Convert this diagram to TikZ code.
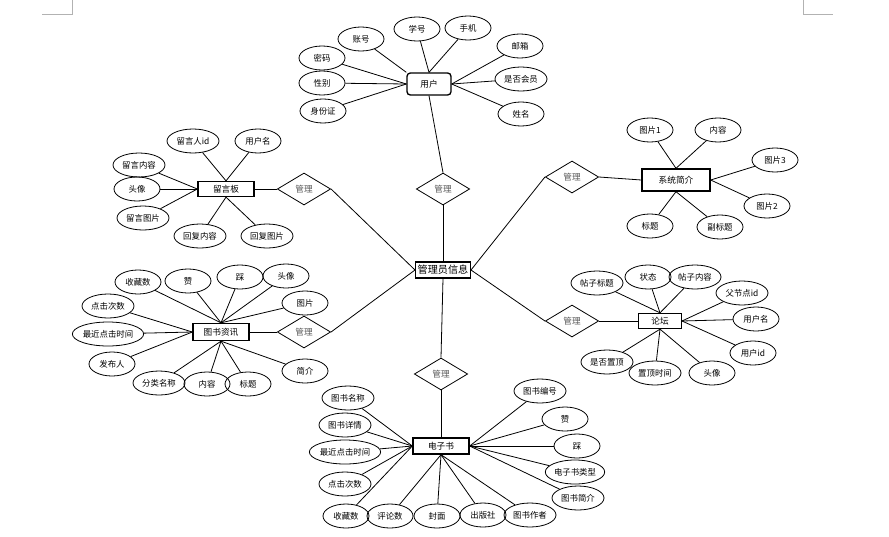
\documentclass[tikz,border=0pt]{standalone}
\usepackage{fontspec}
\newfontfamily\cjk{Noto Sans CJK SC}
\usetikzlibrary{shapes.geometric}
\tikzset{
  attr/.style={ellipse,draw=black,line width=0.6pt,inner sep=0pt,minimum width=34.5pt,minimum height=18pt,font=\cjk\fontsize{6.3}{7}\selectfont},
  wattr/.style={attr,minimum width=39pt},
  xattr/.style={attr,minimum width=51pt},
  ent/.style={rectangle,draw=black,line width=1pt,inner sep=0pt,font=\cjk\fontsize{6.5}{7}\selectfont},
  rel/.style={diamond,draw=black,line width=0.6pt,inner sep=0pt,minimum width=40pt,minimum height=24pt,text=black!65,font=\cjk\fontsize{6.5}{7}\selectfont},
  conn/.style={draw=black,line width=0.6pt},
  corner/.style={draw=black!30,line width=0.7pt}
}
\begin{document}
\begin{tikzpicture}[x=0.75pt,y=-0.75pt]
\useasboundingbox (0,0) rectangle (889,536);
\fill[white] (0,0) rectangle (889,536);
% corner marks
\coordinate (cl0) at (72,0); \coordinate (cl1) at (72,14); \coordinate (cl2) at (42,14);
\coordinate (cr0) at (803,0); \coordinate (cr1) at (803,14); \coordinate (cr2) at (833,14);
\draw[corner] (cl0) -- (cl1) -- (cl2);
\draw[corner] (cr0) -- (cr1) -- (cr2);

% center
\node[ent,minimum width=41pt,minimum height=12pt,font=\cjk\fontsize{7.6}{8}\selectfont] (admin) at (443,270) {管理员信息};

% relationship diamonds
\node[rel] (r1) at (443,189) {管理};
\node[rel] (r2) at (304,189) {管理};
\node[rel] (r3) at (572,177) {管理};
\node[rel] (r4) at (304,332) {管理};
\node[rel] (r5) at (572,321) {管理};
\node[rel] (r6) at (441,374) {管理};

% 用户
\node[ent,rounded corners=2.5pt,minimum width=33pt,minimum height=16.5pt] (user) at (429,84) {用户};
\node[attr] (u1) at (361,39) {账号};
\node[attr] (u2) at (417,29) {学号};
\node[attr] (u3) at (468,28) {手机};
\node[attr] (u4) at (520,46) {邮箱};
\node[wattr] (u5) at (521,79) {是否会员};
\node[attr] (u6) at (521,114) {姓名};
\node[attr] (u7) at (322,58) {密码};
\node[attr] (u8) at (322,83) {性别};
\node[attr] (u9) at (323,111) {身份证};
\draw[conn] (u1) -- (user.north west);
\draw[conn] (u2) -- (user.north);
\draw[conn] (u3) -- (user.north);
\draw[conn] (u4) -- (user.east);
\draw[conn] (u5) -- (user.east);
\draw[conn] (u6) -- (user.east);
\draw[conn] (u7) -- (user.west);
\draw[conn] (u8) -- (user.west);
\draw[conn] (u9) -- (user.west);
\draw[conn] (user.south) -- (r1.north);
\draw[conn] (r1.south) -- (admin.north);

% 留言板
\node[ent,minimum width=42pt,minimum height=11.25pt] (msg) at (226,189) {留言板};
\node[wattr] (m1) at (193,141) {留言人id};
\node[attr] (m2) at (258,141) {用户名};
\node[wattr] (m3) at (139,165) {留言内容};
\node[attr] (m4) at (137,189) {头像};
\node[wattr] (m5) at (143,218) {留言图片};
\node[wattr] (m6) at (200,236) {回复内容};
\node[wattr] (m7) at (267,236) {回复图片};
\draw[conn] (m1) -- (msg.north);
\draw[conn] (m2) -- (msg.north);
\draw[conn] (m3) -- (msg.west);
\draw[conn] (m4) -- (msg.west);
\draw[conn] (m5) -- (msg.west);
\draw[conn] (m6) -- (msg.south);
\draw[conn] (m7) -- (msg.south);
\draw[conn] (msg.east) -- (r2.west);
\draw[conn] (r2.east) -- (admin.west);

% 系统简介
\node[ent,minimum width=51pt,minimum height=16.5pt] (sys) at (676,180) {系统简介};
\node[attr] (s1) at (650,130) {图片1};
\node[attr] (s2) at (718,130) {内容};
\node[attr] (s3) at (775,160) {图片3};
\node[attr] (s4) at (767,206) {图片2};
\node[attr] (s5) at (650,226) {标题};
\node[attr] (s6) at (720,227) {副标题};
\draw[conn] (s1) -- (sys.north);
\draw[conn] (s2) -- (sys.north);
\draw[conn] (s3) -- (sys.east);
\draw[conn] (s4) -- (sys.east);
\draw[conn] (s5) -- (sys.south);
\draw[conn] (s6) -- (sys.south);
\draw[conn] (sys.west) -- (r3.east);
\draw[conn] (r3.west) -- (admin.east);

% 图书资讯
\node[ent,minimum width=42pt,minimum height=12.75pt] (news) at (221,332) {图书资讯};
\node[attr] (n1) at (138,282) {收藏数};
\node[attr] (n2) at (188,281) {赞};
\node[attr] (n3) at (240,277) {踩};
\node[attr] (n4) at (286,276) {头像};
\node[attr] (n5) at (305,303) {图片};
\node[wattr] (n6) at (108,306) {点击次数};
\node[xattr] (n7) at (108,334) {最近点击时间};
\node[attr] (n8) at (112,364) {发布人};
\node[wattr] (n9) at (159,383) {分类名称};
\node[attr] (n10) at (207,384) {内容};
\node[attr] (n11) at (248,384) {标题};
\node[attr] (n12) at (305,371) {简介};
\foreach \i in {1,...,5} {\draw[conn] (n\i) -- (news.north);}
\foreach \i in {6,7,8} {\draw[conn] (n\i) -- (news.west);}
\foreach \i in {9,...,12} {\draw[conn] (n\i) -- (news.south);}
\draw[conn] (news.east) -- (r4.west);
\draw[conn] (r4.east) -- (admin.west);

% 论坛
\node[ent,minimum width=32pt,minimum height=11.25pt] (forum) at (660,321) {论坛};
\node[wattr] (f1) at (597,283) {帖子标题};
\node[attr] (f2) at (648,277) {状态};
\node[wattr] (f3) at (695,277) {帖子内容};
\node[wattr] (f4) at (742,293) {父节点id};
\node[attr] (f5) at (756,319) {用户名};
\node[attr] (f6) at (753,353) {用户id};
\node[wattr] (f7) at (607,362) {是否置顶};
\node[wattr] (f8) at (655,373) {置顶时间};
\node[attr] (f9) at (712,373) {头像};
\foreach \i in {1,2,3} {\draw[conn] (f\i) -- (forum.north);}
\foreach \i in {4,5,6} {\draw[conn] (f\i) -- (forum.east);}
\foreach \i in {7,8,9} {\draw[conn] (f\i) -- (forum.south);}
\draw[conn] (forum.west) -- (r5.east);
\draw[conn] (r5.west) -- (admin.east);

% 电子书
\node[ent,minimum width=42pt,minimum height=12pt] (ebook) at (441,446) {电子书};
\node[wattr] (e1) at (348,398) {图书名称};
\node[wattr] (e2) at (345,425) {图书详情};
\node[xattr] (e3) at (345,452) {最近点击时间};
\node[wattr] (e4) at (345,484) {点击次数};
\node[attr] (e5) at (346,516) {收藏数};
\node[attr] (e6) at (390,516) {评论数};
\node[attr] (e7) at (437,516) {封面};
\node[attr] (e8) at (483,515) {出版社};
\node[wattr] (e9) at (530,515) {图书作者};
\node[wattr] (e10) at (540,391) {图书编号};
\node[attr] (e11) at (565,419) {赞};
\node[attr] (e12) at (577,446) {踩};
\node[attr,minimum width=43.5pt] (e13) at (575,472) {电子书类型};
\node[wattr] (e14) at (578,498) {图书简介};
\foreach \i in {1,...,5} {\draw[conn] (e\i) -- (ebook.west);}
\foreach \i in {6,...,9} {\draw[conn] (e\i) -- (ebook.south);}
\foreach \i in {10,...,14} {\draw[conn] (e\i) -- (ebook.east);}
\draw[conn] (ebook.north) -- (r6.south);
\draw[conn] (r6.north) -- (admin.south);
\end{tikzpicture}
\end{document}
